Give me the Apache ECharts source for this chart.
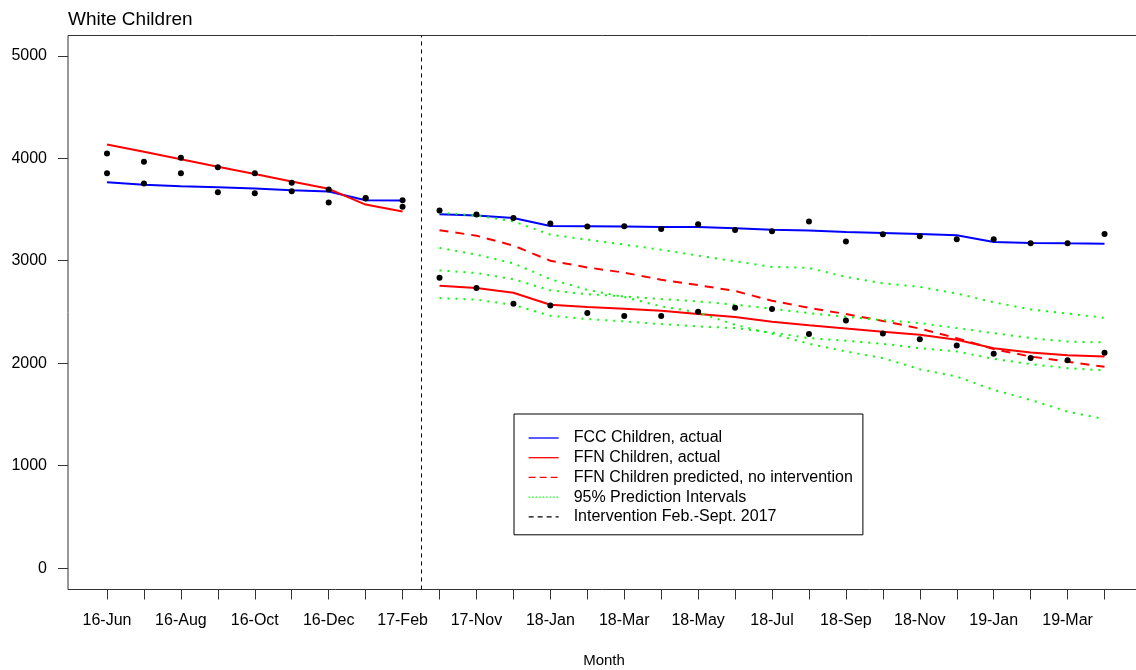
<!DOCTYPE html>
<html>
<head>
<meta charset="utf-8">
<script src="https://cdn.jsdelivr.net/npm/echarts@6/dist/echarts.min.js"></script>
<style>
  html, body { margin: 0; padding: 0; background: #fff; }
  #chart { width: 1136px; height: 670px; }
</style>
</head>
<body>
<div id="chart"></div>
<script>
// months on the x axis (gap Mar-Sep 2017 = intervention)
const months = ['16-Jun', '16-Jul', '16-Aug', '16-Sep', '16-Oct', '16-Nov', '16-Dec', '17-Jan', '17-Feb',
  '17-Oct', '17-Nov', '17-Dec', '18-Jan', '18-Feb', '18-Mar', '18-Apr', '18-May', '18-Jun', '18-Jul',
  '18-Aug', '18-Sep', '18-Oct', '18-Nov', '18-Dec', '19-Jan', '19-Feb', '19-Mar', '19-Apr']
const preMonths = 9 // months before the intervention
const yTicks = [0, 1000, 2000, 3000, 4000, 5000]

// observed counts (dots)
const fccObserved = [3854, 3754, 3854, 3669, 3659, 3679, 3568, 3612, 3590,
  3490, 3451, 3418, 3363, 3333, 3337, 3311, 3356, 3301, 3288, 3382, 3187, 3258, 3239, 3210, 3210, 3170, 3170, 3261]
const ffnObserved = [4047, 3966, 4005, 3913, 3854, 3760, 3695, 3608, 3526,
  2835, 2734, 2581, 2564, 2489, 2460, 2460, 2502, 2541, 2529, 2284, 2418, 2291, 2235, 2173, 2092, 2050, 2030, 2102]

// fitted lines
const fccFit = [3766, 3741, 3727, 3718, 3705, 3688, 3675, 3590, 3587,
  3454, 3441, 3418, 3340, 3337, 3333, 3330, 3330, 3317, 3302, 3294, 3281, 3271, 3261, 3248, 3183, 3174, 3170, 3167]
const ffnFit = [4135, 4063, 3990, 3918, 3846, 3774, 3702, 3548, 3480,
  2757, 2734, 2688, 2571, 2548, 2532, 2512, 2480, 2450, 2405, 2370, 2340, 2307, 2278, 2229, 2147, 2105, 2079, 2066]

// post-intervention only (17-Oct .. 19-Apr)
const ffnPredicted = [3297, 3245, 3148, 3000, 2935, 2884, 2815, 2762, 2705, 2610, 2540, 2480, 2413, 2338, 2245, 2138, 2065, 2015, 1965]
const predUpper = [3470, 3441, 3385, 3255, 3206, 3157, 3108, 3050, 2995, 2940, 2930, 2842, 2780, 2745, 2680, 2595, 2525, 2485, 2443]
const predLower = [3125, 3060, 2975, 2820, 2717, 2646, 2555, 2496, 2375, 2287, 2190, 2115, 2050, 1942, 1870, 1740, 1642, 1528, 1455]
const actualUpper = [2906, 2880, 2820, 2711, 2674, 2652, 2626, 2603, 2571, 2532, 2489, 2453, 2421, 2392, 2343, 2294, 2245, 2212, 2203]
const actualLower = [2636, 2620, 2570, 2463, 2431, 2408, 2382, 2359, 2343, 2300, 2245, 2219, 2190, 2147, 2115, 2043, 1991, 1952, 1929]

const font = 'Liberation Sans, Arial, sans-serif'

function pairs(values, start) {
  return values.map((v, i) => [start + i, v])
}

function lineSeries(name, values, start, color, type) {
  return {
    name: name,
    type: 'line',
    data: pairs(values, start),
    symbol: 'none',
    color: color,
    lineStyle: { color: color, width: 2, type: type || 'solid' }
  }
}

const chart = echarts.init(document.getElementById('chart'))

const series = [
  lineSeries('FCC Children, actual', fccFit.slice(0, preMonths), 0, '#0000ff'),
  lineSeries('FCC Children, actual', fccFit.slice(preMonths), preMonths, '#0000ff'),
  lineSeries('FFN Children, actual', ffnFit.slice(0, preMonths), 0, '#ff0000'),
  lineSeries('FFN Children, actual', ffnFit.slice(preMonths), preMonths, '#ff0000'),
  lineSeries('FFN Children predicted, no intervention', ffnPredicted, preMonths, '#ff0000', [9, 7]),
  lineSeries('95% Prediction Intervals', predUpper, preMonths, '#00ff00', [2, 6]),
  lineSeries('95% Prediction Intervals', predLower, preMonths, '#00ff00', [2, 6]),
  lineSeries('95% Prediction Intervals', actualUpper, preMonths, '#00ff00', [2, 6]),
  lineSeries('95% Prediction Intervals', actualLower, preMonths, '#00ff00', [2, 6]),
  {
    name: 'Intervention Feb.-Sept. 2017',
    type: 'line',
    data: [],
    symbol: 'none',
    color: '#000',
    lineStyle: { color: '#000', width: 1, type: [4, 4] },
    markLine: {
      silent: true,
      symbol: ['none', 'none'],
      label: { show: false },
      lineStyle: { color: '#000', width: 1, type: [4, 4] },
      data: [{ xAxis: preMonths - 0.5 }]
    }
  },
  {
    name: 'fcc points',
    type: 'scatter',
    data: pairs(fccObserved, 0),
    symbolSize: 6,
    itemStyle: { color: '#000', opacity: 1 },
    z: 5
  },
  {
    name: 'ffn points',
    type: 'scatter',
    data: pairs(ffnObserved, 0),
    symbolSize: 6,
    itemStyle: { color: '#000', opacity: 1 },
    z: 5
  }
]

chart.setOption({
  animation: false,
  backgroundColor: '#fff',
  title: {
    text: 'White Children',
    left: 63,
    top: 5,
    textStyle: { fontFamily: font, fontSize: 19, fontWeight: 'normal', color: '#000' }
  },
  legend: {
    orient: 'vertical',
    left: 514,
    top: 414,
    data: [
      { name: 'FCC Children, actual' },
      { name: 'FFN Children, actual' },
      { name: 'FFN Children predicted, no intervention', lineStyle: { type: [7, 4] } },
      { name: '95% Prediction Intervals', lineStyle: { type: [1.5, 2] } },
      { name: 'Intervention Feb.-Sept. 2017', lineStyle: { type: [5, 4] } }
    ],
    itemWidth: 30,
    itemHeight: 14,
    itemGap: 3.7,
    padding: [16, 10, 10, 14],
    borderColor: '#000',
    borderWidth: 1,
    backgroundColor: '#fff',
    itemStyle: { opacity: 0 },
    lineStyle: { width: 1.3 },
    textStyle: { fontFamily: font, fontSize: 16, color: '#000', padding: [0, 0, 0, 10] }
  },
  grid: {
    left: 68,
    top: 35.5,
    width: 1072,
    height: 554,
    show: true,
    borderColor: '#333',
    borderWidth: 1,
    outerBoundsMode: 'none'
  },
  xAxis: {
    type: 'value',
    min: -1.056,
    max: 27.96,
    name: 'Month',
    nameLocation: 'middle',
    nameGap: 64,
    nameTextStyle: { fontFamily: font, fontSize: 15, color: '#000' },
    axisLine: { show: false, onZero: false },
    splitLine: { show: false },
    axisTick: {
      show: true,
      length: 10,
      customValues: months.map((m, i) => i),
      lineStyle: { color: '#333' }
    },
    axisLabel: {
      customValues: months.map((m, i) => i).filter(i => i % 2 === 0),
      formatter: v => months[v],
      margin: 23,
      fontFamily: font,
      fontSize: 16,
      color: '#000'
    }
  },
  yAxis: {
    type: 'value',
    min: -208,
    max: 5198,
    axisLine: { show: false, onZero: false },
    splitLine: { show: false },
    axisTick: {
      show: true,
      length: 10,
      customValues: yTicks,
      lineStyle: { color: '#333' }
    },
    axisLabel: {
      customValues: yTicks,
      formatter: v => String(v),
      margin: 21,
      fontFamily: font,
      fontSize: 16,
      color: '#000'
    }
  },
  series: series
})
</script>
</body>
</html>
